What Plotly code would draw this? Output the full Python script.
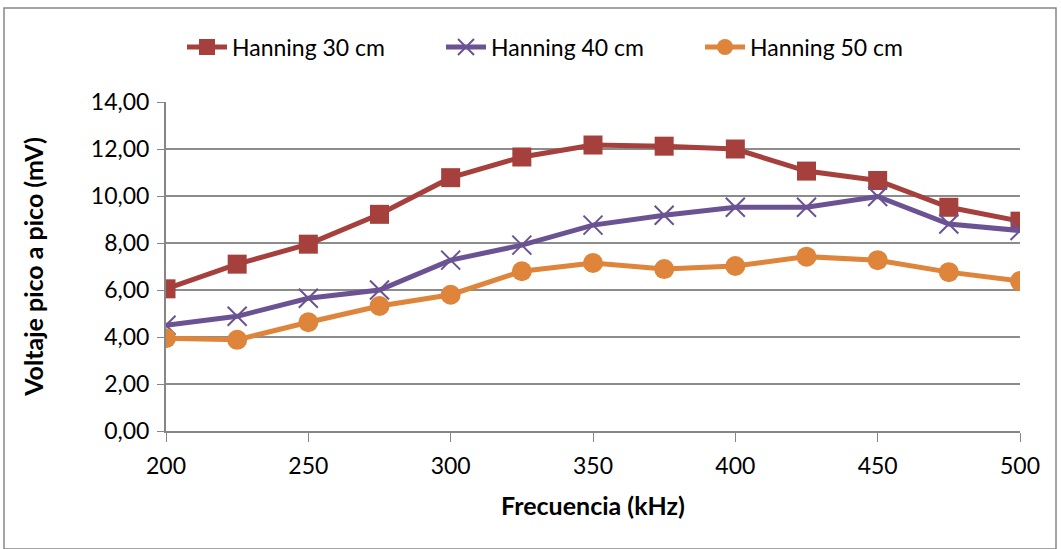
import plotly.graph_objects as go

freq = [200, 225, 250, 275, 300, 325, 350, 375, 400, 425, 450, 475, 500]
h30 = [6.05, 7.10, 7.95, 9.22, 10.78, 11.66, 12.17, 12.12, 12.00, 11.06, 10.66, 9.52, 8.93]
h40 = [4.50, 4.88, 5.65, 6.00, 7.27, 7.91, 8.76, 9.18, 9.52, 9.52, 9.98, 8.81, 8.53]
h50 = [3.95, 3.88, 4.63, 5.32, 5.80, 6.80, 7.15, 6.89, 7.02, 7.42, 7.27, 6.76, 6.38]
y_ticks = [0, 2, 4, 6, 8, 10, 12, 14]

font = "Lato, Open Sans, sans-serif"

fig = go.Figure()
fig.add_trace(go.Scatter(x=freq, y=h30, name="Hanning 30 cm", mode="lines+markers",
                         line=dict(color="#A5403D", width=5),
                         marker=dict(symbol="square", size=19, color="#A5403D")))
fig.add_trace(go.Scatter(x=freq, y=h40, name="Hanning 40 cm", mode="lines+markers",
                         line=dict(color="#6B5393", width=5),
                         marker=dict(symbol="x-thin-open", size=19, color="#6B5393",
                                     line=dict(color="#6B5393", width=2))))
fig.add_trace(go.Scatter(x=freq, y=h50, name="Hanning 50 cm", mode="lines+markers",
                         line=dict(color="#DE843B", width=5),
                         marker=dict(symbol="circle", size=20, color="#DE843B")))

fig.update_layout(
    width=1061, height=549,
    margin=dict(l=166, r=41, t=102, b=118),
    paper_bgcolor="white", plot_bgcolor="white",
    font=dict(family=font, size=23, color="black"),
    separators=",.",
    legend=dict(orientation="h", x=(182 - 166) / 854, xanchor="left", y=1.167, yanchor="middle",
                font=dict(size=23), itemwidth=40, tracegroupgap=0,
                entrywidth=204, entrywidthmode="pixels"),
    xaxis=dict(range=[200, 500], tickvals=freq[::2], showgrid=False,
               showline=True, linecolor="#868686", linewidth=2,
               ticks="outside", ticklen=9, tickcolor="#868686", tickwidth=1,
               zeroline=False, ticklabelstandoff=4,
               title=dict(text="<b>Frecuencia (kHz)</b>", font=dict(size=25), standoff=20)),
    yaxis=dict(range=[0, 14], tickvals=y_ticks, tickformat=".2f",
               showgrid=True, gridcolor="#8C8C8C", gridwidth=1.5,
               showline=True, linecolor="#868686", linewidth=2,
               ticks="outside", ticklen=7, tickcolor="#868686",
               zeroline=False, ticklabelstandoff=3,
               title=dict(text="<b>Voltaje pico a pico (mV)</b>", font=dict(size=25), standoff=40)),
    shapes=[dict(type="rect", xref="paper", yref="paper",
                 x0=-162/854, x1=(1056-166)/854, y0=-(549-431)/329, y1=(431-8)/329,
                 line=dict(color="#868686", width=1.5), fillcolor="rgba(0,0,0,0)", layer="below")],
)

fig.write_html("out.html")
